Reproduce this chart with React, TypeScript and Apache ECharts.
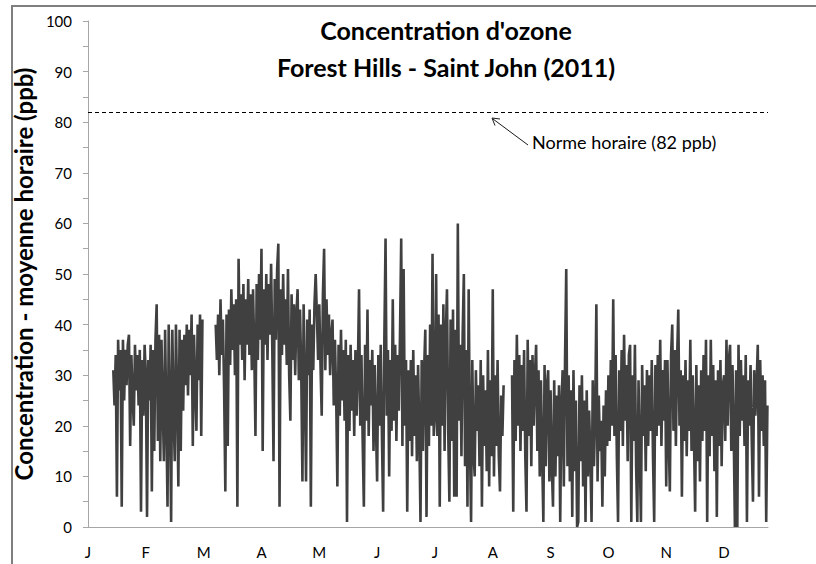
import React, { useEffect, useRef } from "react";
import * as echarts from "echarts";

const monthLabels = ["J", "F", "M", "A", "M", "J", "J", "A", "S", "O", "N", "D"];
const yTicks = [0, 10, 20, 30, 40, 50, 60, 70, 80, 90, 100];
const hourlyNorm = 82;

// Hourly ozone (ppb); each month holds up to 48 readings
const ozoneJan = [
  null, null, null, null, null, null, null, null, null, null, null, null, null, null, null, null,
  null, null, null, null, null,
  31, 24, 34, 6, 37, 27, 35, 4, 37, 25, 35, 28, 36, 38, 16, 34, 26, 20, 36, 27, 34, 24, 35, 3, 33, 22, 36,
];
const ozoneFeb = [
  30, 2, 33, 25, 36, 7, 35, 15, 37, 44, 17, 38, 13, 37, 24, 13, 39, 22, 4, 40, 25, 1, 39, 23,
  13, 40, 26, 8, 39, 15, 37, 23, 38, 28, 40, 26, 39, 30, 42, 16, 38, 28, 19, 40, 29, 42, 18, 41,
];
const ozoneMar = [
  null, null, null, null, null, null, null, null, null, null,
  40, 33, 42, 30, 45, 34, 41, 27, 7, 42, 16, 43, 32, 47, 35, 44, 30, 45, 4, 53, 36, 46, 33, 48,
  29, 45, 36, 49, 34, 46, 31, 47, 35, 18, 48, 33, 50, 37,
];
const ozoneApr = [
  55, 15, 47, 36, 50, 33, 48, 38, 52, 35, 13, 49, 37, 51, 56, 4, 47, 34, 50, 36, 45, 32, 51, 30,
  21, 46, 33, 44, 30, 42, 47, 29, 43, 31, 9, 44, 28, 9, 41, 30, 43, 4, 40, 31, 44, 50, 42, 33,
];
const ozoneMay = [
  44, 32, 22, 46, 55, 31, 45, 34, 42, 30, 38, 41, 24, 37, 26, 8, 36, 22, 39, 25, 35, 21, 37, 1,
  34, 19, 36, 23, 33, 18, 35, 22, 31, 47, 20, 34, 17, 4, 36, 21, 43, 18, 33, 24, 35, 15, 32, 20,
];
const ozoneJun = [
  9, 34, 20, 36, 18, 3, 37, 57, 22, 35, 10, 33, 19, 45, 21, 36, 17, 34, 23, 38, 57, 16, 51, 20,
  33, 3, 31, 17, 33, 14, 35, 18, 30, 13, 32, 19, 1, 33, 15, 31, 39, 2, 34, 16, 40, 20, 54, 18,
];
const ozoneJul = [
  22, 50, 18, 42, 4, 40, 20, 44, 15, 38, 47, 19, 5, 41, 17, 43, 6, 39, 6, 60, 21, 36, 14, 38,
  50, 12, 35, 4, 47, 18, 1, 33, 15, 10, 31, 19, 28, 12, 33, 4, 30, 16, 27, 11, 35, 8, 29, 14,
];
const ozoneAug = [
  47, 10, 30, 16, 33, 14, 7, 26, 18, 28, null, null, null, null, null, null,
  30, 3, 33, 17, 38, 20, 34, 15, 32, 19, 35, 14, 3, 37, 18, 33, 12, 34, 20, 30, 36, 15, 31, 10,
  29, 14, 1, 32, 12, 28, 31, 9,
];
const ozoneSep = [
  27, 12, 4, 29, 10, 26, 14, 28, 1, 24, 31, 8, 33, 51, 12, 30, 9, 27, 2, 31, 11, 25, 0, 1,
  28, 13, 30, 8, 25, 1, 27, 10, 23, 14, 1, 29, 12, 22, 44, 9, 26, 15, 21, 4, 24, 10, 27, 16,
];
const ozoneOct = [
  30, 17, 33, 20, 45, 18, 34, 14, 1, 31, 19, 35, 16, 38, 21, 32, 13, 34, 36, 1, 30, 17, 36, 12,
  1, 29, 15, 1, 32, 18, 28, 11, 31, 16, 30, 19, 33, 14, 1, 32, 18, 34, 20, 37, 16, 31, 21, 33,
];
const ozoneNov = [
  8, 33, 18, 7, 34, 40, 19, 35, 16, 33, 43, 20, 31, 6, 30, 17, 33, 14, 29, 19, 37, 15, 30, 18,
  3, 32, 13, 28, 9, 31, 17, 34, 19, 37, 1, 30, 14, 37, 18, 32, 11, 29, 2, 31, 16, 33, 12, 28,
];
const ozoneDec = [
  30, 17, 37, 20, 33, 36, 15, 32, 19, 0, 31, 0, 36, 18, 33, 21, 30, 16, 34, 1, 29, 20, 32, 17,
  5, 31, 22, 28, 36, 6, 33, 19, 30, 16, 29, 1, 24,
];

const monthlySeries = [
  ozoneJan, ozoneFeb, ozoneMar, ozoneApr, ozoneMay, ozoneJun,
  ozoneJul, ozoneAug, ozoneSep, ozoneOct, ozoneNov, ozoneDec,
];
const readingsPerMonth = 48;

export default function App() {
  const ref = useRef<HTMLDivElement>(null);

  useEffect(() => {
    document.body.style.margin = "0";
    if (!ref.current) return;
    const chart = echarts.init(ref.current, null, { renderer: "svg" });

    const data: any[] = [];
    monthlySeries.forEach((arr, m) => {
      arr.forEach((v, i) => {
        data.push([m + i / readingsPerMonth, v === null ? "-" : v]);
      });
    });

    const font = "Lato, 'Open Sans', sans-serif";

    chart.setOption({
      animation: false,
      backgroundColor: "#ffffff",
      title: {
        text: "Concentration d'ozone\nForest Hills - Saint John (2011)",
        left: 446,
        top: 11,
        textAlign: "center",
        padding: 0,
        textStyle: {
          fontFamily: font,
          fontWeight: "bold",
          fontSize: 25,
          lineHeight: 37,
          color: "#000",
        },
      },
      grid: { left: 88, right: 48, top: 21, bottom: 37, containLabel: false },
      xAxis: {
        type: "value",
        min: 0,
        max: 11.76,
        interval: 1,
        splitLine: { show: false },
        axisTick: { show: false },
        axisLine: { show: true, lineStyle: { color: "#a6a6a6", width: 1 } },
        axisLabel: {
          showMaxLabel: false,
          margin: 17,
          fontFamily: font,
          fontSize: 15,
          color: "#000",
          formatter: (v: number) => monthLabels[Math.round(v)] ?? "",
        },
      },
      yAxis: {
        type: "value",
        min: yTicks[0],
        max: yTicks[yTicks.length - 1],
        interval: 10,
        splitLine: { show: false },
        axisLine: { show: true, lineStyle: { color: "#a6a6a6", width: 1 } },
        axisTick: { show: true, length: 5, lineStyle: { color: "#a6a6a6" } },
        minorTick: { show: true, splitNumber: 2, length: 5, lineStyle: { color: "#a6a6a6" } },
        axisLabel: { margin: 16, fontFamily: font, fontSize: 15, color: "#000" },
        name: "Concentration - moyenne horaire (ppb)",
        nameLocation: "middle",
        nameGap: 39,
        nameTextStyle: { fontFamily: font, fontWeight: "bold", fontSize: 24, color: "#000" },
      },
      series: [
        {
          type: "line",
          data,
          showSymbol: false,
          connectNulls: false,
          lineStyle: { color: "#404040", width: 2.6 },
          itemStyle: { color: "#404040" },
          markLine: {
            silent: true,
            symbol: ["none", "none"],
            label: { show: false },
            lineStyle: { color: "#000", width: 1, type: [4, 3] },
            data: [{ yAxis: hourlyNorm }],
          },
        },
      ],
      graphic: [
        {
          type: "rect",
          shape: { x: 12, y: 6, width: 1200, height: 1200 },
          style: { fill: "none", stroke: "#7f7f7f", lineWidth: 2 },
          silent: true,
        },
        {
          type: "line",
          shape: { x1: 528, y1: 145, x2: 493, y2: 119 },
          style: { stroke: "#000", lineWidth: 0.9 },
        },
        {
          type: "polyline",
          shape: { points: [[495, 125.5], [492, 118], [500, 119]] },
          style: { stroke: "#000", lineWidth: 0.9, fill: "none" },
        },
        {
          type: "text",
          x: 532,
          y: 142,
          style: {
            text: "Norme horaire (82 ppb)",
            font: "18px " + font,
            fill: "#000",
            verticalAlign: "middle",
            align: "left",
          },
        },
      ],
    });

    return () => chart.dispose();
  }, []);

  return <div ref={ref} style={{ width: 816, height: 564 }} />;
}
